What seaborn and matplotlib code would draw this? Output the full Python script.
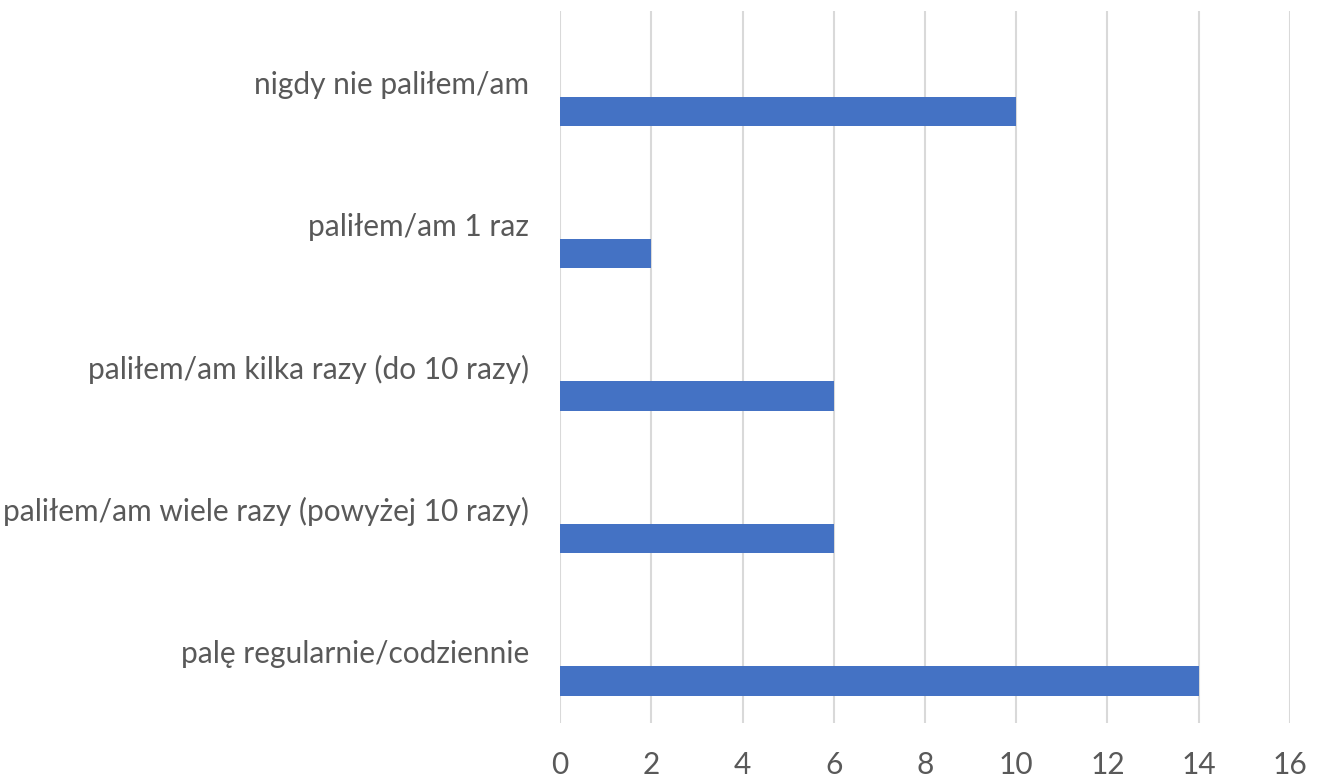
import pandas as pd
import matplotlib
matplotlib.use("Agg")
import matplotlib.pyplot as plt
import seaborn as sns

# Data
categories = [
    "nigdy nie paliłem/am",
    "paliłem/am 1 raz",
    "paliłem/am kilka razy (do 10 razy)",
    "paliłem/am wiele razy (powyżej 10 razy)",
    "palę regularnie/codziennie",
]
counts = [10, 2, 6, 6, 14]
x_ticks = [0, 2, 4, 6, 8, 10, 12, 14, 16]

# Excel places the single series in the lower slot of a two-slot cluster
series_order = ["puste", "liczba"]

df = pd.DataFrame({
    "kategoria": categories * 2,
    "wartosc": [float("nan")] * len(categories) + counts,
    "seria": ["puste"] * len(categories) + ["liczba"] * len(categories),
})

sns.set_theme(style="white")
plt.rcParams["font.family"] = ["Lato", "DejaVu Sans"]

fig = plt.figure(figsize=(13.24, 7.8), dpi=100)
ax = fig.add_axes([0.423, 0.0731, 0.5513, 0.9128])

sns.barplot(
    data=df, y="kategoria", x="wartosc", hue="seria",
    order=categories, hue_order=series_order,
    palette={"puste": "white", "liczba": "#4472C4"},
    saturation=1, width=0.82, gap=0.497, linewidth=0, errorbar=None,
    legend=False, ax=ax,
)

ax.set_xlim(0, 16)
ax.set_xticks(x_ticks)
ax.set_ylim(4.5, -0.5)
ax.set_xlabel("")
ax.set_ylabel("")
ax.grid(axis="x", color="#d9d9d9", linewidth=1.5)
ax.grid(axis="y", visible=False)
ax.set_axisbelow(True)
for s in ax.spines.values():
    s.set_visible(False)
ax.tick_params(axis="y", length=0, pad=22, labelsize=21.5, labelcolor="#595959")
ax.tick_params(axis="x", length=0, pad=20, labelsize=21.5, labelcolor="#595959")

fig.savefig("out.png", dpi=100)
